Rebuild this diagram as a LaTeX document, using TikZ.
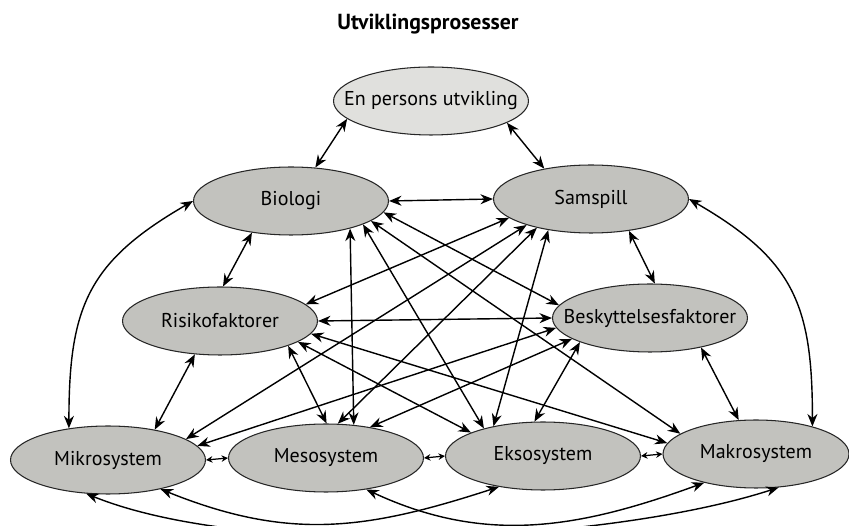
\documentclass[tikz,border=0pt]{standalone}
\usepackage{fontspec}
\setmainfont{PT Sans}
\usetikzlibrary{arrows.meta,shapes.geometric}
\definecolor{ellgray}{HTML}{C2C2BE}
\definecolor{ellpale}{HTML}{E0E0DD}

\begin{document}
\begin{tikzpicture}[x=0.02cm, y=-0.02cm,
  ell/.style={ellipse, draw=black!85, line width=0.6pt, fill=ellgray,
    minimum width=3.9cm, minimum height=1.36cm, inner xsep=-0.9cm, inner ysep=0pt,
    font=\fontsize{11.4}{13}\selectfont},
  arr/.style={{Stealth[length=2.5mm,width=2mm]}-{Stealth[length=2.5mm,width=2mm]}, line width=0.8pt},
  sarr/.style={{Stealth[length=1.3mm,width=1.3mm]}-{Stealth[length=1.3mm,width=1.3mm]}, line width=0.7pt},
]
  \useasboundingbox (0,0) rectangle (849,526);
  \clip (0,0) rectangle (849,526);

  \node[font=\bfseries\fontsize{12.4}{15}\selectfont] (title) at (428,24) {Utviklingsprosesser};

  % Ellipses
  \node[ell, fill=ellpale] (utv) at (431,101) {En persons utvikling};
  \node[ell] (bio)     at (291,201) {Biologi};
  \node[ell] (samsp)   at (591,199) {Samspill};
  \node[ell] (risiko)  at (220,321) {Risikofaktorer};
  \node[ell] (beskytt) at (650,318) {Beskyttelsesfaktorer};
  \node[ell] (mikro)   at (108,460) {Mikrosystem};
  \node[ell] (meso)    at (326,458) {Mesosystem};
  \node[ell] (ekso)    at (543,456) {Eksosystem};
  \node[ell, minimum width=3.72cm] (makro) at (756,454) {Makrosystem};

  % Upper part
  \draw[arr] (utv.-168) -- (bio.54);
  \draw[arr] (utv.-16) -- (samsp.147);
  \draw[arr] (bio.east) -- (samsp.west);
  \draw[arr] (bio.-141) -- (risiko.85);
  \draw[arr] (samsp.-40) -- (beskytt.82);
  \draw[arr] (risiko.east) -- (beskytt.west);
  \draw[arr] (risiko.-127) -- (mikro.33);
  \draw[arr] (beskytt.-30) -- (makro.117);

  % Biologi to the rest
  \draw[arr] (bio.-25) -- (meso.50);
  \draw[arr] (bio.-18) -- (ekso.155);
  \draw[arr] (bio.-14) -- (makro.165);
  \draw[arr] (bio.-7) -- (beskytt.172);
  % Samspill to the rest
  \draw[arr] (samsp.193) -- (risiko.11);
  \draw[arr] (samsp.202) -- (mikro.15);
  \draw[arr] (samsp.208) -- (meso.71);
  \draw[arr] (samsp.216) -- (ekso.149);
  % factors to systems
  \draw[arr] (risiko.-20) -- (meso.89);
  \draw[arr] (risiko.-15) -- (ekso.162);
  \draw[arr] (risiko.-8) -- (makro.173);
  \draw[arr] (beskytt.186) -- (mikro.9);
  \draw[arr] (beskytt.195) -- (meso.35);
  \draw[arr] (beskytt.199) -- (ekso.104);

  % Bottom row
  \draw[sarr] (mikro.east) -- (meso.west);
  \draw[sarr] (meso.east) -- (ekso.west);
  \draw[sarr] (ekso.east) -- (makro.west);

  % Curves
  \draw[arr] (bio.west) to[out=210,in=90,looseness=1.2] (mikro.141);
  \draw[arr] (samsp.east) to[out=-30,in=90,looseness=1.2] (makro.26);
  \draw[arr] (mikro.-123) to[out=-22,in=198,looseness=0.66] (makro.-56);
  \draw[arr] (mikro.-29) to[out=-22,in=198,looseness=1.05] (ekso.-145);
  \draw[arr] (meso.-38) to[out=-25,in=200] (makro.-151);
\end{tikzpicture}
\end{document}
